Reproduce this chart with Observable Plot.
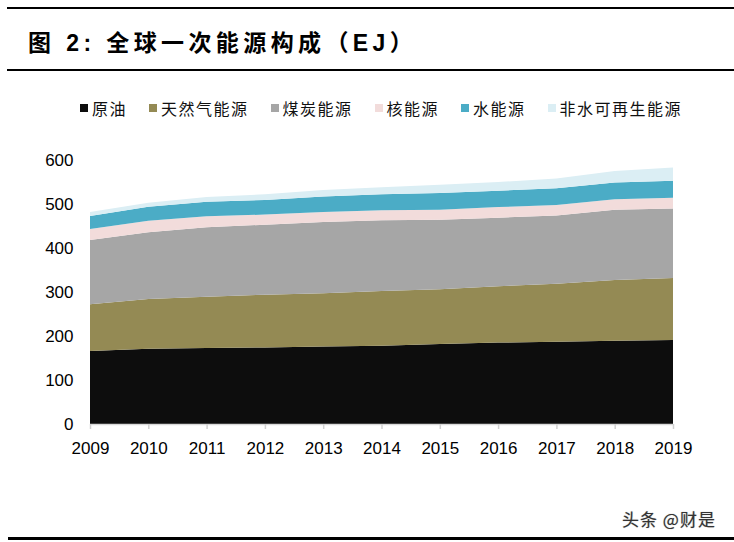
<!DOCTYPE html>
<html>
<head>
<meta charset="utf-8">
<script src="https://cdn.jsdelivr.net/npm/d3@7"></script>
<script src="https://cdn.jsdelivr.net/npm/@observablehq/plot@0.6"></script>
<style>
  html, body { margin: 0; padding: 0; background: #fff; }
  #page { position: relative; width: 734px; height: 542px; overflow: hidden; font-family: "Liberation Sans", "Noto Sans CJK SC", sans-serif; }
  .rule { position: absolute; left: 7px; right: 0; background: #000; }
  #title { position: absolute; left: 28px; top: 29px; font-size: 23px; font-weight: bold; letter-spacing: 4.4px; white-space: nowrap; line-height: 28px; color: #000; }
  #legend { position: absolute; left: 80px; top: 98px; display: flex; align-items: center; font-family: "Noto Sans CJK SC", sans-serif; font-size: 16px; line-height: 20px; letter-spacing: 1.5px; color: #111; white-space: nowrap; }
  #legend .item { display: flex; align-items: center; margin-right: 22px; }
  #legend .item:last-child { margin-right: 0; }
  #legend .sw { width: 8px; height: 8px; margin-right: 4px; }
  #chart { position: absolute; left: 0; top: 130px; }
  #mark { position: absolute; left: 622px; top: 506px; font-family: "Noto Sans CJK SC", sans-serif; font-size: 17px; color: #333; letter-spacing: 1px; white-space: nowrap; text-shadow: 0 0 1px #999; }
</style>
</head>
<body>
<div id="page">
  <div class="rule" style="top:7px;height:2px;"></div>
  <div id="title">图 2: 全球一次能源构成（EJ）</div>
  <div class="rule" style="top:69px;height:2px;"></div>
  <div id="legend"></div>
  <div id="chart"></div>
  <div id="mark">头条 @财是</div>
  <div class="rule" style="top:537px;height:3px;left:8px;"></div>
</div>
<script>
const years = [2009, 2010, 2011, 2012, 2013, 2014, 2015, 2016, 2017, 2018, 2019];
const series = ["原油", "天然气能源", "煤炭能源", "核能源", "水能源", "非水可再生能源"];
const colors = ["#0d0d0d", "#948a54", "#a6a6a6", "#f2dcdb", "#4bacc6", "#dbeef4"];
const oil     = [166, 171, 173, 174, 176, 178, 182, 185, 187, 189, 191];
const gas     = [106, 113, 116, 120, 121, 124, 124, 128, 132, 138, 141];
const coal    = [146, 152, 158, 159, 162, 161, 158, 156, 155, 160, 158];
const nuclear = [25, 26, 25, 23, 23, 23, 23, 24, 24, 24, 24];
const hydro   = [30, 32, 33, 33, 35, 36, 38, 37, 38, 38, 39];
const renew   = [9, 9, 11, 13, 15, 16, 19, 20, 22, 26, 30];
const yTicks = [0, 100, 200, 300, 400, 500, 600];

const values = [oil, gas, coal, nuclear, hydro, renew];
const data = [];
series.forEach((s, i) => years.forEach((yr, j) => data.push({year: yr, series: s, value: values[i][j]})));

// legend
const leg = document.getElementById("legend");
series.forEach((s, i) => {
  const it = document.createElement("div");
  it.className = "item";
  const sw = document.createElement("div");
  sw.className = "sw";
  sw.style.background = colors[i];
  const t = document.createElement("span");
  t.textContent = s;
  it.appendChild(sw); it.appendChild(t);
  leg.appendChild(it);
});

const chart = Plot.plot({
  width: 734,
  height: 340,
  marginTop: 30,
  marginBottom: 46,
  marginLeft: 90,
  marginRight: 61,
  style: {fontFamily: "Liberation Sans, Arial, sans-serif", fontSize: "17px", color: "#000", background: "transparent"},
  x: {domain: [2009, 2019], label: null},
  y: {domain: [0, 600], label: null},
  color: {domain: series, range: colors},
  marks: [
    Plot.areaY(data, {x: "year", y: "value", fill: "series", z: "series"}),
    Plot.ruleY([0], {stroke: "#d9d9d9", strokeWidth: 1.5}),
    Plot.axisX({ticks: years, tickFormat: d => String(d), tickSize: 5, stroke: "#d0d0d0", strokeWidth: 1.5, fill: "#000", tickPadding: 12, label: null, fontSize: 17}),
    Plot.axisY({ticks: yTicks, tickSize: 0, tickPadding: 17, label: null, fill: "#000", fontSize: 17})
  ]
});
document.getElementById("chart").appendChild(chart);
</script>
</body>
</html>
